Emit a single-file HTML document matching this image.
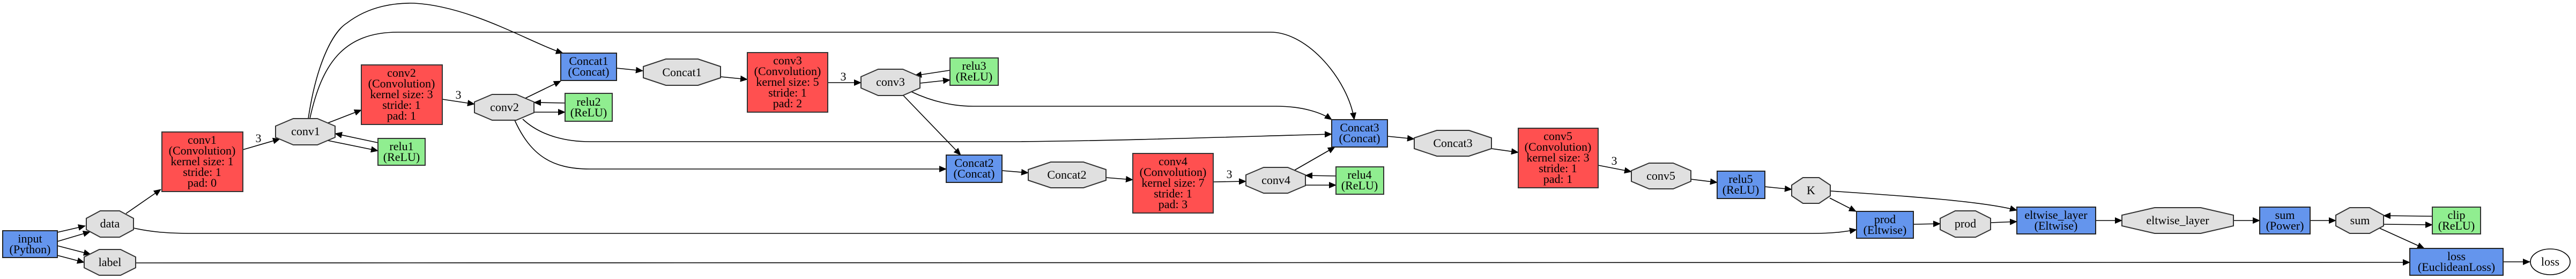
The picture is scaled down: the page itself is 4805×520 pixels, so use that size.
<!DOCTYPE html>
<html><head><meta charset="utf-8"><style>
html,body{margin:0;padding:0;background:#fff;}
svg{display:block;}
text{font-family:"Liberation Serif",serif;font-size:22px;text-anchor:middle;fill:#000;}
.r{fill:#FF5050;stroke:#333;stroke-width:2;}
.b{fill:#6495ED;stroke:#222;stroke-width:2;}
.g{fill:#90EE90;stroke:#333;stroke-width:2;}
.o{fill:#E0E0E0;stroke:#333;stroke-width:2;}
.e{fill:none;stroke:#000;stroke-width:1.6;marker-end:url(#a);}
</style></head><body>
<svg width="4805" height="520" viewBox="0 0 4805 520" xmlns="http://www.w3.org/2000/svg">
<defs><marker id="a" markerUnits="userSpaceOnUse" markerWidth="14" markerHeight="12" refX="13" refY="6" orient="auto"><path d="M0,0 L14,6 L0,12 Z" fill="#000"/></marker></defs>

<!-- edges -->
<path class="e" d="M107,433 L159,421"/>
<path class="e" d="M107,450 L168,432"/>
<path class="e" d="M107,458 L169,474"/>
<path class="e" d="M107,476 L157,489"/>
<path class="e" d="M235,398 L300,353"/>
<path class="e" d="M453,279 L522,259"/>
<path class="e" d="M612,229 L674,205"/>
<path class="e" d="M612,262 L705,281"/>
<path class="e" d="M705,266 L625,249"/>
<path class="e" d="M575,221 C590,120 620,60 647,43 C690,10 740,5 773,6 C880,12 990,80 1050,99"/>
<path class="e" d="M578,221 C600,120 640,60 742,60 L2370,60 C2440,60 2515,150 2526,223"/>
<path class="e" d="M825,185 L885,194"/>
<path class="e" d="M980,183 L1046,151"/>
<path class="e" d="M1054,192 L996,191"/>
<path class="e" d="M996,209 L1054,209"/>
<path class="e" d="M975,222 C1010,255 1060,264 1100,264 L1900,264 C2100,262 2300,255 2484,250"/>
<path class="e" d="M960,224 C990,290 1030,315 1100,315 L1765,315"/>
<path class="e" d="M1150,127 L1199,132"/>
<path class="e" d="M1344,143 L1394,148"/>
<path class="e" d="M1544,154 L1606,154"/>
<path class="e" d="M1716,155 L1772,149"/>
<path class="e" d="M1772,131 L1706,141"/>
<path class="e" d="M1685,178 L1792,289"/>
<path class="e" d="M1700,171 C1740,190 1780,198 1815,198 L2380,198 C2430,198 2465,210 2484,223"/>
<path class="e" d="M1869,318 L1918,322"/>
<path class="e" d="M2063,331 L2113,335"/>
<path class="e" d="M2263,339 L2324,338"/>
<path class="e" d="M2415,317 L2490,274"/>
<path class="e" d="M2492,328 L2435,327"/>
<path class="e" d="M2435,345 L2492,345"/>
<path class="e" d="M2588,254 L2638,259"/>
<path class="e" d="M2782,277 L2832,284"/>
<path class="e" d="M2981,308 L3043,320"/>
<path class="e" d="M3154,334 L3203,340"/>
<path class="e" d="M3292,348 L3342,353"/>
<path class="e" d="M3413,369 L3462,394"/>
<path class="e" d="M3414,356 C3550,365 3700,375 3762,392"/>
<path class="e" d="M249,425 C280,432 310,435 360,435 L3380,435 C3420,435 3440,432 3463,428"/>
<path class="e" d="M3569,418 L3619,417"/>
<path class="e" d="M3713,415 L3762,413"/>
<path class="e" d="M3909,411 L3958,411"/>
<path class="e" d="M4166,411 L4215,411"/>
<path class="e" d="M4309,411 L4357,411"/>
<path class="e" d="M4537,403 L4446,402"/>
<path class="e" d="M4446,418 L4537,419"/>
<path class="e" d="M4438,425 L4522,463"/>
<path class="e" d="M253,490 L4495,489"/>
<path class="e" d="M4669,488 L4719,488"/>

<!-- edge labels -->
<text x="482" y="265">3</text>
<text x="855" y="184">3</text>
<text x="1573" y="150">3</text>
<text x="2293" y="332">3</text>
<text x="3011" y="307">3</text>

<!-- input -->
<rect class="b" x="5" y="430" width="102" height="50"/>
<text x="56" y="452">input</text><text x="56" y="472">(Python)</text>

<!-- octagons -->
<polygon class="o" points="187,393 223,393 249,407 249,428 223,442 187,442 161,428 161,407"/><text x="205" y="424">data</text>
<polygon class="o" points="185,465 225,465 253,479 253,499 225,513 185,513 157,499 157,479"/><text x="205" y="496">label</text>
<polygon class="o" points="547,221 592,221 625,235 625,256 592,270 547,270 514,256 514,235"/><text x="570" y="252">conv1</text>
<polygon class="o" points="918,176 963,176 996,190 996,210 963,224 918,224 885,210 885,190"/><text x="941" y="207">conv2</text>
<polygon class="o" points="1242,110 1302,110 1344,124 1344,145 1302,159 1242,159 1200,145 1200,124"/><text x="1272" y="142">Concat1</text>
<polygon class="o" points="1638,129 1684,129 1716,143 1716,164 1684,178 1638,178 1606,164 1606,143"/><text x="1661" y="160">conv3</text>
<polygon class="o" points="1960,302 2021,302 2063,316 2063,336 2021,350 1960,350 1918,336 1918,316"/><text x="1990" y="333">Concat2</text>
<polygon class="o" points="2357,312 2402,312 2435,326 2435,346 2402,360 2357,360 2324,346 2324,326"/><text x="2380" y="343">conv4</text>
<polygon class="o" points="2680,243 2740,243 2782,257 2782,277 2740,291 2680,291 2638,277 2638,257"/><text x="2710" y="274">Concat3</text>
<polygon class="o" points="3076,304 3121,304 3154,318 3154,338 3121,352 3076,352 3043,338 3043,318"/><text x="3098" y="335">conv5</text>
<polygon class="o" points="3363,331 3393,331 3414,345 3414,365 3393,379 3363,379 3342,365 3342,345"/><text x="3378" y="362">K</text>
<polygon class="o" points="3647,393 3685,393 3713,407 3713,428 3685,442 3647,442 3619,428 3619,407"/><text x="3666" y="424">prod</text>
<polygon class="o" points="4019,387 4105,387 4166,401 4166,421 4105,435 4019,435 3958,421 3958,401"/><text x="4062" y="418">eltwise_layer</text>
<polygon class="o" points="4383,387 4420,387 4446,401 4446,421 4420,435 4383,435 4357,421 4357,401"/><text x="4402" y="418">sum</text>
<ellipse cx="4757" cy="488" rx="37" ry="24" fill="#fff" stroke="#000" stroke-width="1.6"/><text x="4757" y="495">loss</text>

<!-- conv boxes -->
<rect class="r" x="302" y="246" width="151" height="111"/>
<text x="377" y="268">conv1</text><text x="377" y="288">(Convolution)</text><text x="377" y="308">kernel size: 1</text><text x="377" y="328">stride: 1</text><text x="377" y="348">pad: 0</text>
<rect class="r" x="674" y="121" width="151" height="111"/>
<text x="749" y="143">conv2</text><text x="749" y="163">(Convolution)</text><text x="749" y="183">kernel size: 3</text><text x="749" y="203">stride: 1</text><text x="749" y="223">pad: 1</text>
<rect class="r" x="1394" y="98" width="150" height="111"/>
<text x="1469" y="120">conv3</text><text x="1469" y="140">(Convolution)</text><text x="1469" y="160">kernel size: 5</text><text x="1469" y="180">stride: 1</text><text x="1469" y="200">pad: 2</text>
<rect class="r" x="2113" y="286" width="150" height="111"/>
<text x="2188" y="308">conv4</text><text x="2188" y="328">(Convolution)</text><text x="2188" y="348">kernel size: 7</text><text x="2188" y="368">stride: 1</text><text x="2188" y="388">pad: 3</text>
<rect class="r" x="2832" y="239" width="149" height="111"/>
<text x="2906" y="261">conv5</text><text x="2906" y="281">(Convolution)</text><text x="2906" y="301">kernel size: 3</text><text x="2906" y="321">stride: 1</text><text x="2906" y="341">pad: 1</text>

<!-- relu -->
<rect class="g" x="705" y="258" width="88" height="50"/><text x="749" y="280">relu1</text><text x="749" y="300">(ReLU)</text>
<rect class="g" x="1054" y="174" width="88" height="52"/><text x="1098" y="197">relu2</text><text x="1098" y="217">(ReLU)</text>
<rect class="g" x="1772" y="108" width="90" height="51"/><text x="1817" y="130">relu3</text><text x="1817" y="150">(ReLU)</text>
<rect class="g" x="2492" y="311" width="89" height="51"/><text x="2536" y="333">relu4</text><text x="2536" y="353">(ReLU)</text>
<rect class="g" x="4537" y="386" width="90" height="50"/><text x="4582" y="408">clip</text><text x="4582" y="428">(ReLU)</text>

<!-- blue -->
<rect class="b" x="1046" y="99" width="104" height="51"/><text x="1098" y="121">Concat1</text><text x="1098" y="141">(Concat)</text>
<rect class="b" x="1765" y="289" width="104" height="51"/><text x="1817" y="311">Concat2</text><text x="1817" y="331">(Concat)</text>
<rect class="b" x="2484" y="223" width="104" height="51"/><text x="2536" y="245">Concat3</text><text x="2536" y="265">(Concat)</text>
<rect class="b" x="3203" y="319" width="89" height="51"/><text x="3247" y="341">relu5</text><text x="3247" y="361">(ReLU)</text>
<rect class="b" x="3463" y="394" width="106" height="50"/><text x="3516" y="416">prod</text><text x="3516" y="436">(Eltwise)</text>
<rect class="b" x="3762" y="386" width="147" height="50"/><text x="3835" y="408">eltwise_layer</text><text x="3835" y="428">(Eltwise)</text>
<rect class="b" x="4215" y="386" width="94" height="50"/><text x="4262" y="408">sum</text><text x="4262" y="428">(Power)</text>
<rect class="b" x="4495" y="463" width="174" height="50"/><text x="4582" y="485">loss</text><text x="4582" y="505">(EuclideanLoss)</text>
</svg>
</body></html>
